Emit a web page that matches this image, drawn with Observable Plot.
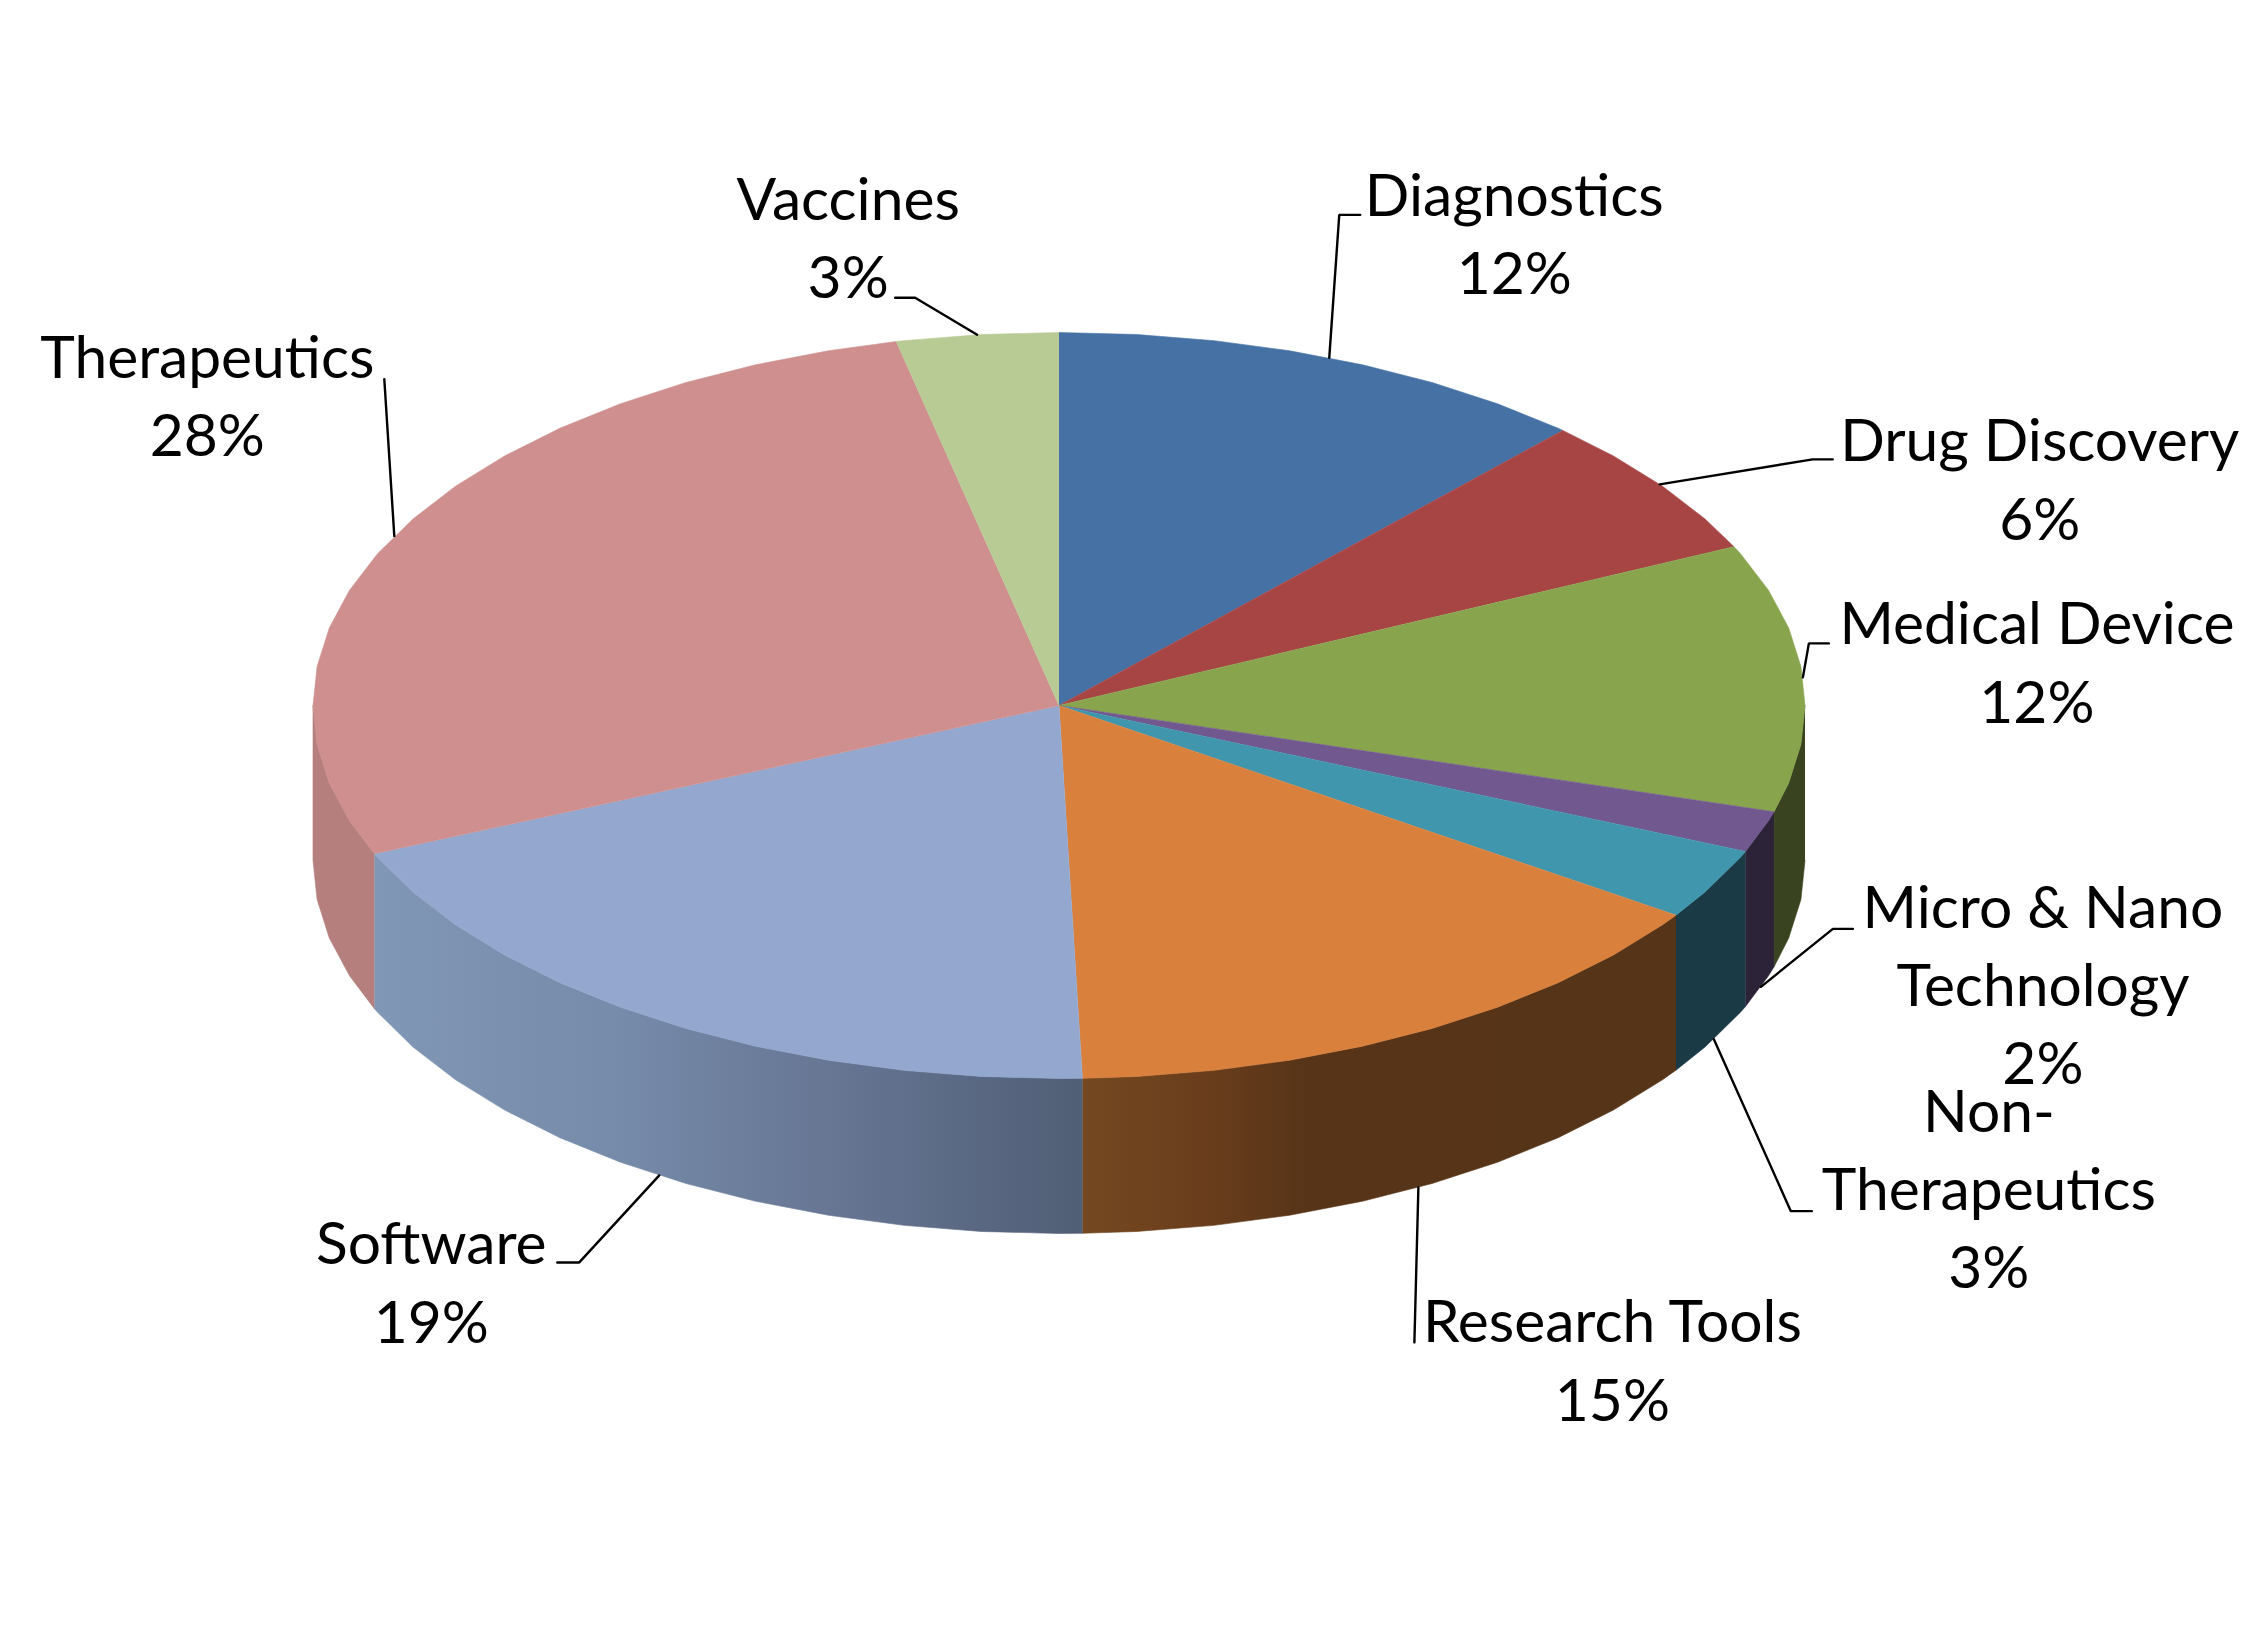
<!DOCTYPE html>
<html>
<head>
<meta charset="utf-8">
<title>Pie chart</title>
<script src="https://cdn.jsdelivr.net/npm/d3@7"></script>
<script src="https://cdn.jsdelivr.net/npm/@observablehq/plot@0.6"></script>
<style>
html,body{margin:0;padding:0;background:#fff}
svg{display:block}
</style>
</head>
<body>
<div id="chart"></div>
<script>
// --- data ---
const categories = ["Diagnostics","Drug Discovery","Medical Device","Micro & Nano\nTechnology","Non-\nTherapeutics","Research Tools","Software","Therapeutics","Vaccines"];
const shares = [11.8,6.2,11.6,1.8,3.1,15,19,28,3.5];
const percentLabels = ["12%","6%","12%","2%","3%","15%","19%","28%","3%"];
// --- styling ---
const topColors = ["#4571a5","#a74544","#88a54e","#71588f","#4096ad","#d9803c","#94a8cf","#ce8f8e","#b8cb94"];
const wallColors = ["#344a66","#6b2c2b","#3a431f","#2c2339","#1a3a46","url(#wallResearch)","url(#wallSoftware)","#b47f7d","#7a8862"];
// --- layout: offsets in px from each slice's rim point ---
const leaderOffsets = [
  [[10,-143],[31,-143]],
  [[153,-25],[173,-25]],
  [[6,-34],[26,-34]],
  [[72,-58],[92,-58]],
  [[77,172],[98,172]],
  [[-4,155]],
  [[-80,87],[-102,87]],
  [[-10,-157]],
  [[-62,-37],[-82,-37]]
];
const labelOffsets = [[185,-142],[380,-23],[234,-33],[282,-59],[275,92.5],[194,155],[-228,89],[-187,-158],[-129,-115]];

const W = 2248, H = 1633;
const cx = 1058.5, cy = 705, rx = 746, ry = 373, depth = 155;
const fontSize = 58.7, lineStep = 78.3;
const facet = 6;

const rad = d => d * Math.PI / 180;
const rim = (deg, drop = 0) => ({x: cx + rx * Math.sin(rad(deg)), y: cy - ry * Math.cos(rad(deg)) + drop});
const arcAngles = (a, b) => {
  const out = [a];
  for (let t = Math.ceil(a / facet + 1e-6) * facet; t < b - 1e-6; t += facet) out.push(t);
  out.push(b);
  return out;
};

let acc = 0;
const slices = categories.map((name, i) => {
  const a0 = acc / 100 * 360;
  acc += shares[i];
  const a1 = acc / 100 * 360;
  return {name, i, a0, a1, mid: (a0 + a1) / 2};
});

const topPts = slices.flatMap(s => [
  {x: cx, y: cy, key: s.name, color: topColors[s.i]},
  ...arcAngles(s.a0, s.a1).map(t => ({...rim(t), key: s.name, color: topColors[s.i]}))
]);

const wallPts = slices.flatMap(s => {
  const a = Math.max(s.a0, 90), b = Math.min(s.a1, 270);
  if (a >= b) return [];
  const arc = arcAngles(a, b);
  return [
    ...arc.map(t => ({...rim(t), key: s.name, color: wallColors[s.i]})),
    ...arc.slice().reverse().map(t => ({...rim(t, depth), key: s.name, color: wallColors[s.i]}))
  ];
});

const anchors = slices.map(s => {
  const lower = s.mid > 90 && s.mid < 270;
  return rim(s.mid, lower ? depth : 0);
});

const leaderPts = slices.flatMap((s, i) => [
  {...anchors[i], key: s.name},
  ...leaderOffsets[i].map(([dx, dy]) => ({x: anchors[i].x + dx, y: anchors[i].y + dy, key: s.name}))
]);

const labels = slices.map((s, i) => ({
  x: anchors[i].x + labelOffsets[i][0],
  // Plot's top line anchor puts the first baseline 0.71 line-heights below y
  y: anchors[i].y + labelOffsets[i][1] - 0.71 * lineStep,
  text: s.name + "\n" + percentLabels[i]
}));

// gradient definitions for the shaded side walls
const gradients = [
  {id: "wallSoftware", stops: [[0,"#8197b6"],[0.35,"#768aa9"],[0.7,"#63728f"],[1,"#505e75"]]},
  {id: "wallResearch", stops: [[0,"#744820"],[0.2,"#6a3e1c"],[0.38,"#573418"],[1,"#563418"]]}
];
function defsMark() {
  const ns = "http://www.w3.org/2000/svg";
  const g = document.createElementNS(ns, "defs");
  for (const {id, stops} of gradients) {
    const lg = document.createElementNS(ns, "linearGradient");
    lg.setAttribute("id", id);
    for (const [o, c] of stops) {
      const st = document.createElementNS(ns, "stop");
      st.setAttribute("offset", o);
      st.setAttribute("stop-color", c);
      lg.appendChild(st);
    }
    g.appendChild(lg);
  }
  return g;
}

const chart = Plot.plot({
  width: W, height: H, margin: 0,
  x: {axis: null, domain: [0, W], range: [0, W]},
  y: {axis: null, domain: [0, H], range: [0, H]},
  color: {type: "identity"},
  style: {background: "#ffffff"},
  marks: [
    defsMark,
    Plot.line(wallPts, {x: "x", y: "y", z: "key", fill: "color", stroke: "color", strokeWidth: 0.6}),
    Plot.line(topPts, {x: "x", y: "y", z: "key", fill: "color", stroke: "color", strokeWidth: 0.6}),
    Plot.line(leaderPts, {x: "x", y: "y", z: "key", stroke: "#000", strokeWidth: 2.4, strokeLinejoin: "miter"}),
    Plot.text(labels, {x: "x", y: "y", text: "text", textAnchor: "middle", lineAnchor: "top",
      lineHeight: lineStep / fontSize, fontSize, fontFamily: "Lato", fill: "#000"})
  ]
});
document.getElementById("chart").appendChild(chart);
</script>
</body>
</html>
